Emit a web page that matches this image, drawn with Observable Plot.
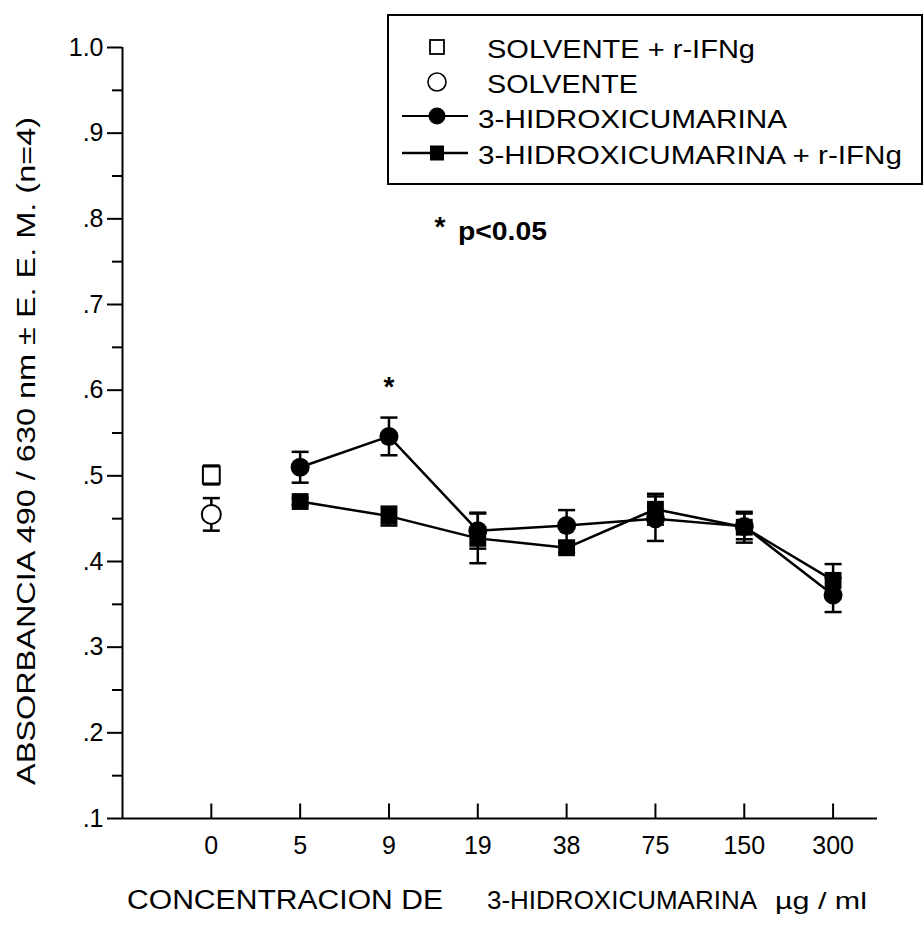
<!DOCTYPE html>
<html>
<head>
<meta charset="utf-8">
<script src="https://cdn.jsdelivr.net/npm/d3@7"></script>
<script src="https://cdn.jsdelivr.net/npm/@observablehq/plot@0.6"></script>
<style>
  body { margin: 0; background: #fff; }
  #wrap { position: relative; width: 923px; height: 928px; font-family: "Liberation Sans", Arial, sans-serif; }
  #wrap > svg { position: absolute; left: 0; top: 0; }
</style>
</head>
<body>
<div id="wrap"></div>
<script>
// ---------- data ----------
const categories = ["0", "5", "9", "19", "38", "75", "150", "300"];

const yTicks = [0.1, 0.2, 0.3, 0.4, 0.5, 0.6, 0.7, 0.8, 0.9, 1.0];
const yTickLabels = [".1", ".2", ".3", ".4", ".5", ".6", ".7", ".8", ".9", "1.0"];
const yMinorTicks = [0.15, 0.25, 0.35, 0.45, 0.55, 0.65, 0.75, 0.85, 0.95];

// controls (concentration 0)
const controlCats = ["0"];
const solventeIfnMean = [0.501];
const solventeIfnSem = [0.011];
const solventeMean = [0.455];
const solventeSem = [0.019];

// 3-hidroxicumarina series
const hcCats = ["5", "9", "19", "38", "75", "150", "300"];
const hcMean = [0.510, 0.546, 0.436, 0.442, 0.450, 0.441, 0.361];
const hcSem = [0.018, 0.022, 0.021, 0.018, 0.026, 0.015, 0.020];
const hcIfnMean = [0.470, 0.453, 0.427, 0.416, 0.461, 0.440, 0.378];
const hcIfnSem = [0.004, 0.011, 0.029, 0.006, 0.018, 0.018, 0.019];
const significantCats = ["9"]; // p<0.05

const legendLabels = ["SOLVENTE + r-IFNg", "SOLVENTE", "3-HIDROXICUMARINA", "3-HIDROXICUMARINA + r-IFNg"];
const yTitle = "ABSORBANCIA  490 / 630 nm ± E. E. M. (n=4)";
const xTitleParts = ["CONCENTRACION DE", "3-HIDROXICUMARINA", "µg / ml"];
const noteText = "p<0.05";

// ---------- build rows ----------
const rows = (cats, means, sems) => cats.map((c, i) => ({x: categories.indexOf(c), cat: c, mean: means[i], sem: sems[i]}));
const solIfn = rows(controlCats, solventeIfnMean, solventeIfnSem);
const sol = rows(controlCats, solventeMean, solventeSem);
const hc = rows(hcCats, hcMean, hcSem);
const hcIfn = rows(hcCats, hcIfnMean, hcIfnSem);
const all = [...solIfn, ...sol, ...hc, ...hcIfn];

const capSymbol = {draw(ctx, size) { const r = Math.sqrt(size / Math.PI); ctx.moveTo(-r, 0); ctx.lineTo(r, 0); }};
const upTick = {draw(ctx, size) { const r = Math.sqrt(size / Math.PI); ctx.moveTo(0, 0); ctx.lineTo(0, -r); }};

const font = "Liberation Sans, Arial, sans-serif";
const yMin = yTicks[0], yMax = yTicks[yTicks.length - 1];
const xIdx = d3.range(categories.length);

const chart = Plot.plot({
  width: 923,
  height: 928,
  marginLeft: 122,
  marginRight: 46,
  marginTop: 47,
  marginBottom: 110,
  style: {fontFamily: font, background: "white", color: "black"},
  x: {type: "linear", domain: [-1, 7.5], axis: null},
  y: {domain: [yMin, yMax], axis: null},
  marks: [
    Plot.ruleY([yMin], {stroke: "black", strokeWidth: 2}),
    Plot.ruleX([-1], {stroke: "black", strokeWidth: 2}),
    Plot.axisY(yTicks, {tickSize: 15, tickPadding: 4, strokeWidth: 2, fontSize: 25, label: null,
      tickFormat: d => yTickLabels[yTicks.indexOf(d)]}),
    Plot.axisY(yMinorTicks, {tickSize: 10, strokeWidth: 2, label: null, tickFormat: () => ""}),
    Plot.axisX(xIdx, {tickSize: 0, tickPadding: 18, fontSize: 25, label: null, tickFormat: i => categories[i]}),
    Plot.dot(xIdx, {x: d => d, y: () => yMin, symbol: upTick, r: 15, stroke: "black", strokeWidth: 2, fill: "none"}),
    // lines
    Plot.line(hc, {x: "x", y: "mean", stroke: "black", strokeWidth: 2.5}),
    Plot.line(hcIfn, {x: "x", y: "mean", stroke: "black", strokeWidth: 2.5}),
    // error bars
    Plot.ruleX(all, {x: "x", y1: d => d.mean - d.sem, y2: d => d.mean + d.sem, stroke: "black", strokeWidth: 2.5}),
    Plot.dot(all, {x: "x", y: d => d.mean + d.sem, symbol: capSymbol, r: 8.5, stroke: "black", strokeWidth: 2.5, fill: "none"}),
    Plot.dot(all, {x: "x", y: d => d.mean - d.sem, symbol: capSymbol, r: 8.5, stroke: "black", strokeWidth: 2.5, fill: "none"}),
    // markers
    Plot.dot(sol, {x: "x", y: "mean", symbol: "circle", r: 9.5, fill: "white", stroke: "black", strokeWidth: 2}),
    Plot.dot(solIfn, {x: "x", y: "mean", symbol: "square", r: 9.5, fill: "white", stroke: "black", strokeWidth: 2}),
    Plot.dot(hc, {x: "x", y: "mean", symbol: "circle", r: 9.5, fill: "black", stroke: "none"}),
    Plot.dot(hcIfn, {x: "x", y: "mean", symbol: "square", r: 9.5, fill: "black", stroke: "none"}),
    // significance star
    Plot.text(hc.filter(d => significantCats.includes(d.cat)), {x: "x", y: d => d.mean + d.sem, text: () => "*",
      dy: -31, fontSize: 28, fontWeight: "bold", fill: "black"})
  ]
});

const wrap = document.getElementById("wrap");
wrap.appendChild(chart);

// ---------- overlay: legend, note, axis titles ----------
const ov = d3.select(wrap).append("svg").attr("width", 923).attr("height", 928)
  .style("position", "absolute").style("left", 0).style("top", 0).style("pointer-events", "none")
  .attr("font-family", font);

// legend box
ov.append("rect").attr("x", 388).attr("y", 15).attr("width", 534).attr("height", 169)
  .attr("fill", "white").attr("stroke", "black").attr("stroke-width", 2);

const symX = 437;
const rowSym = [47, 82, 116, 153];
const rowBase = [58, 93, 128, 164];
const rowTextX = [487, 487, 478, 478];
const rowTextLen = [268, 151, 309, 424];
// row 1: open square
ov.append("rect").attr("x", symX - 7).attr("y", rowSym[0] - 7).attr("width", 14).attr("height", 14)
  .attr("fill", "white").attr("stroke", "black").attr("stroke-width", 1.8);
// row 2: open circle
ov.append("circle").attr("cx", symX).attr("cy", rowSym[1]).attr("r", 9)
  .attr("fill", "white").attr("stroke", "black").attr("stroke-width", 1.6);
// row 3: line + filled circle
ov.append("line").attr("x1", 402).attr("x2", 468).attr("y1", rowSym[2]).attr("y2", rowSym[2]).attr("stroke", "black").attr("stroke-width", 2);
ov.append("circle").attr("cx", symX).attr("cy", rowSym[2]).attr("r", 8.5).attr("fill", "black");
// row 4: line + filled square
ov.append("line").attr("x1", 402).attr("x2", 468).attr("y1", rowSym[3]).attr("y2", rowSym[3]).attr("stroke", "black").attr("stroke-width", 2.5);
ov.append("rect").attr("x", symX - 7).attr("y", rowSym[3] - 7.5).attr("width", 14).attr("height", 15).attr("fill", "black");

legendLabels.forEach((t, i) => {
  ov.append("text").attr("x", rowTextX[i]).attr("y", rowBase[i]).attr("font-size", 26)
    .attr("textLength", rowTextLen[i]).attr("lengthAdjust", "spacingAndGlyphs").text(t);
});

// note
ov.append("text").attr("x", 440).attr("y", 236).attr("font-size", 28).attr("font-weight", "bold")
  .attr("text-anchor", "middle").text("*");
ov.append("text").attr("x", 458).attr("y", 240).attr("font-size", 25).attr("font-weight", "bold")
  .attr("textLength", 89).attr("lengthAdjust", "spacingAndGlyphs").text(noteText);

// y title
ov.append("text").attr("transform", "translate(35,785) rotate(-90)").attr("font-size", 26)
  .attr("textLength", 668).attr("lengthAdjust", "spacingAndGlyphs").text(yTitle);

// x title
const xtX = [127, 487, 775], xtLen = [316, 270, 92], xtSize = [27, 26, 24];
xTitleParts.forEach((t, i) => {
  ov.append("text").attr("x", xtX[i]).attr("y", 909).attr("font-size", xtSize[i])
    .attr("textLength", xtLen[i]).attr("lengthAdjust", "spacingAndGlyphs").text(t);
});
</script>
</body>
</html>
